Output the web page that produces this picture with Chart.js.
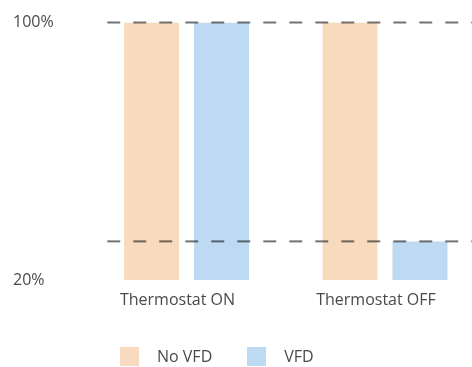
<!DOCTYPE html>
<html><head><meta charset="utf-8">
<script src="https://cdn.jsdelivr.net/npm/chart.js@4/dist/chart.umd.min.js"></script>
<style>
html,body{margin:0;padding:0;overflow:hidden;background:#fff;width:472px;height:367px;}
#wrap{position:relative;width:485px;height:367px;}
#legend{position:absolute;left:120px;top:347px;display:flex;align-items:center;font-family:"Open Sans",sans-serif;font-size:16px;color:#4a4a4a;line-height:19px;}
.box{width:19px;height:19px;flex:none;}
.lbl{margin-left:18px;}
.item{display:flex;align-items:center;margin-right:35px;}
</style></head>
<body>
<div id="wrap"><canvas id="c" width="485" height="367"></canvas><div id="legend"></div></div>
<script>
const categories = ['Thermostat ON', 'Thermostat OFF'];
const seriesNames = ['No VFD', 'VFD'];
const noVfd = [100, 100];
const vfd = [100, 32];
const yTicks = [20, 100];
const refLines = [100, 32];
const colors = ['#F8DBBF', '#BDDAF2'];

const refLinePlugin = {
  id: 'refLines',
  afterDatasetsDraw(chart) {
    const ctx = chart.ctx, y = chart.scales.y, area = chart.chartArea;
    ctx.save();
    ctx.strokeStyle = 'rgba(0,0,0,0.55)';
    ctx.lineWidth = 2;
    ctx.setLineDash([13, 13]);
    refLines.forEach(v => {
      const py = y.getPixelForValue(v);
      ctx.beginPath();
      ctx.moveTo(area.left + 20, py);
      ctx.lineTo(chart.width, py);
      ctx.stroke();
    });
    ctx.restore();
  }
};

const font = { family: '"Open Sans", sans-serif', size: 16 };
const chart = new Chart(document.getElementById('c'), {
  type: 'bar',
  data: {
    labels: categories,
    datasets: [
      { label: seriesNames[0], data: noVfd, backgroundColor: colors[0], categoryPercentage: 0.705, barPercentage: 0.786 },
      { label: seriesNames[1], data: vfd, backgroundColor: colors[1], categoryPercentage: 0.705, barPercentage: 0.786 }
    ]
  },
  options: {
    responsive: false,
    animation: false,
    layout: { padding: { left: 13, right: 0.75, top: 22.5, bottom: 0 } },
    plugins: { legend: { display: false }, tooltip: { enabled: false } },
    scales: {
      x: {
        grid: { display: false, drawTicks: false },
        border: { display: false },
        ticks: { font, color: '#4a4a4a', padding: 11, labelOffset: -9, maxRotation: 0 },
        afterFit(s) { s.height = 87; }
      },
      y: {
        min: 20, max: 100,
        grid: { display: false, drawTicks: false },
        border: { display: false },
        ticks: { font, color: '#4a4a4a', crossAlign: 'far', callback: v => v + '%' },
        afterBuildTicks(s) { s.ticks = yTicks.map(v => ({ value: v })); },
        afterFit(s) { s.width = 74.25; }
      }
    }
  },
  plugins: [refLinePlugin]
});

const leg = document.getElementById('legend');
chart.data.datasets.forEach(ds => {
  const item = document.createElement('div');
  item.className = 'item';
  const b = document.createElement('div');
  b.className = 'box';
  b.style.background = ds.backgroundColor;
  const t = document.createElement('span');
  t.className = 'lbl';
  t.textContent = ds.label;
  item.appendChild(b); item.appendChild(t);
  leg.appendChild(item);
});
</script>
</body></html>
